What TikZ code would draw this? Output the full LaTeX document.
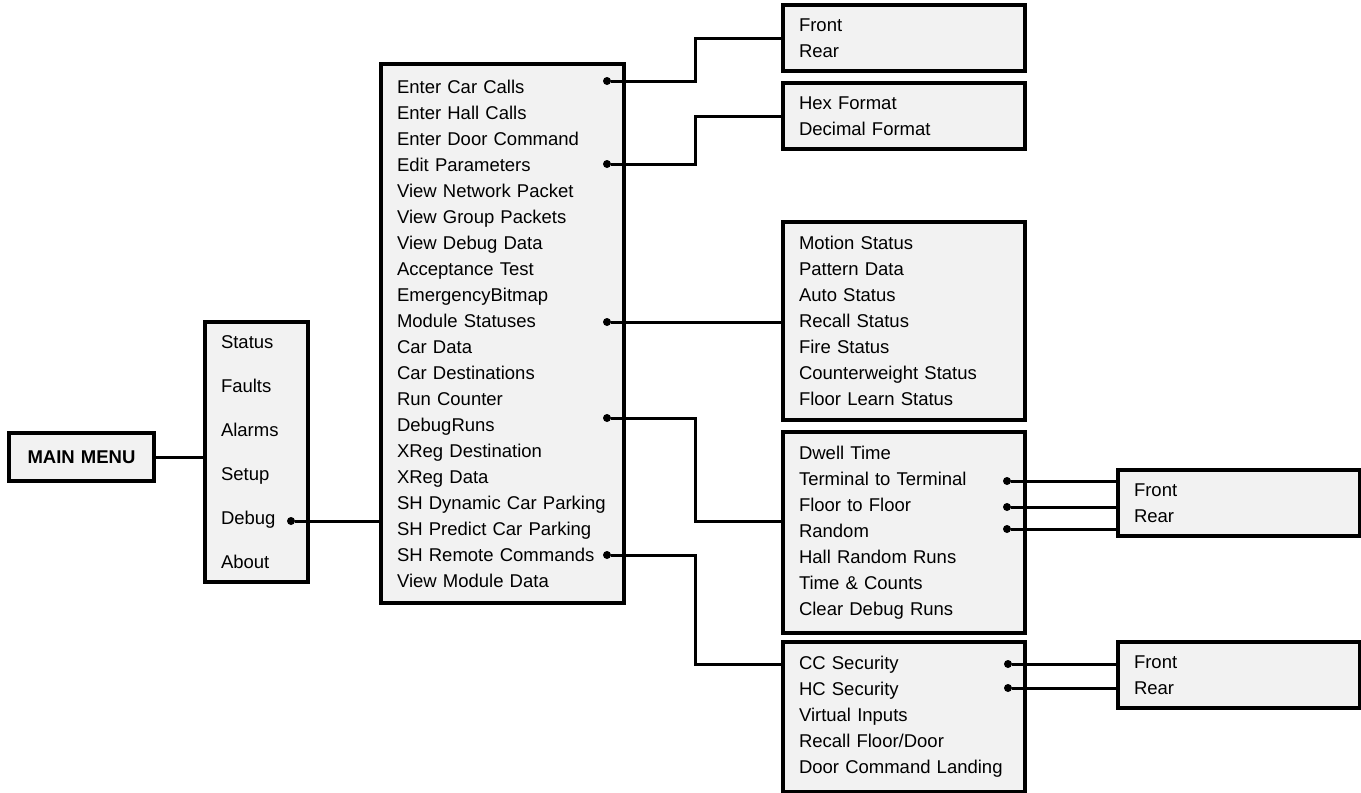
\documentclass[tikz,border=0pt]{standalone}
\usepackage{fontspec}
\setmainfont{Liberation Sans}
\usepackage{tikz}
\usetikzlibrary{shapes,arrows}
\definecolor{menugray}{HTML}{F2F2F2}
\tikzstyle{bus} = [coordinate]
\tikzstyle{menu} = [draw, rectangle, line width=3.5pt, fill=menugray, align=left, inner xsep=16pt, inner ysep=0pt]
\tikzstyle{joint} = [circle, fill, inner sep=0pt, minimum size=8pt]
\tikzstyle{link} = [draw, line width=3pt]

\begin{document}
\begin{tikzpicture}[x=1pt, y=-1pt, font=\fontsize{18.5}{26}\selectfont]
    \useasboundingbox (0,0) rectangle (1361,793);
    % Drawing blocks and nodes
    \node [menu, align=center, text width=113pt, minimum height=48pt, font=\fontsize{18.5}{26}\selectfont\bfseries] (main) at (81.5,457) {MAIN MENU};
    \node [menu, text width=71pt, minimum height=260pt, font=\fontsize{18.5}{44}\selectfont] (top) at (256.5,452)
        {Status\\Faults\\Alarms\\Setup\\Debug\\About};
    \node [menu, text width=211pt, minimum height=539pt] (debug) at (502.5,333.5)
        {Enter Car Calls\\Enter Hall Calls\\Enter Door Command\\Edit Parameters\\View Network Packet\\View Group Packets\\View Debug Data\\Acceptance Test\\EmergencyBitmap\\Module Statuses\\Car Data\\Car Destinations\\Run Counter\\DebugRuns\\XReg Destination\\XReg Data\\SH Dynamic Car Parking\\SH Predict Car Parking\\SH Remote Commands\\View Module Data};
    \node [menu, text width=210pt, minimum height=66pt] (carcalls) at (904,38) {Front\\Rear};
    \node [menu, text width=210pt, minimum height=66pt] (params) at (904,116) {Hex Format\\Decimal Format};
    \node [menu, text width=210pt, minimum height=198pt] (modules) at (904,321)
        {Motion Status\\Pattern Data\\Auto Status\\Recall Status\\Fire Status\\Counterweight Status\\Floor Learn Status};
    \node [menu, text width=210pt, minimum height=201pt] (runs) at (904,532.5)
        {Dwell Time\\Terminal to Terminal\\Floor to Floor\\Random\\Hall Random Runs\\Time \& Counts\\Clear Debug Runs};
    \node [menu, text width=210pt, minimum height=150pt] (remote) at (904,717)
        {CC Security\\HC Security\\Virtual Inputs\\Recall Floor/Door\\Door Command Landing};
    \node [menu, text width=210pt, minimum height=66pt] (runsdoor) at (1239,503) {Front\\Rear};
    \node [menu, text width=210pt, minimum height=66pt] (secdoor) at (1239,675) {Front\\Rear};

    \node [joint] (ddebug) at (291,521) {};
    \node [joint] (dcar) at (607,81) {};
    \node [joint] (dparam) at (607,164) {};
    \node [joint] (dmod) at (607,322) {};
    \node [joint] (druns) at (607,418) {};
    \node [joint] (dremote) at (607,555) {};
    \node [joint] (dterm) at (1007,481) {};
    \node [joint] (dfloor) at (1007,507) {};
    \node [joint] (drandom) at (1007,529) {};
    \node [joint] (dcc) at (1008,664) {};
    \node [joint] (dhc) at (1008,688) {};
    \node [bus, name=jog] at (695,0) {};

    % Connectors
    \draw [link] (main.east) -- (main.east -| top.west);
    \draw [link] (ddebug) -- (ddebug -| debug.west);
    \draw [link] (dcar) -- (dcar -| jog) |- (carcalls.west);
    \draw [link] (dparam) -- (dparam -| jog) |- (params.west);
    \draw [link] (dmod) -- (dmod -| modules.west);
    \draw [link] (druns) -- (druns -| jog) |- ([yshift=11.5pt]runs.west);
    \draw [link] (dremote) -- (dremote -| jog) |- (remote.west |- dcc);
    \draw [link] (dterm) -- (dterm -| runsdoor.west);
    \draw [link] (dfloor) -- (dfloor -| runsdoor.west);
    \draw [link] (drandom) -- (drandom -| runsdoor.west);
    \draw [link] (dcc) -- (dcc -| secdoor.west);
    \draw [link] (dhc) -- (dhc -| secdoor.west);
\end{tikzpicture}
\end{document}
